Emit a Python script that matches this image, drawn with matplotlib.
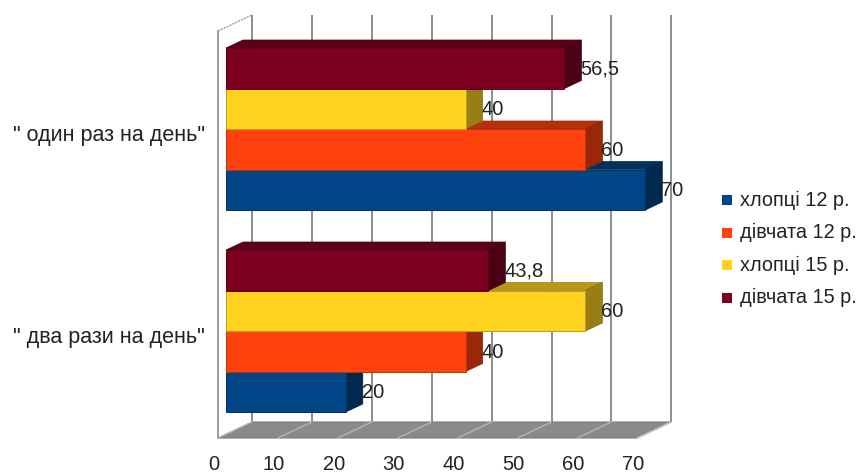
import matplotlib
matplotlib.use("Agg")
import matplotlib.pyplot as plt
from matplotlib.patches import Polygon, Rectangle
from matplotlib.colors import to_rgb

plt.rcParams['font.family'] = ['Liberation Sans', 'DejaVu Sans']

# ---- data -------------------------------------------------------------
categories = ['" один раз на день"', '" два рази на день"']
series_names = ["хлопці 12 р.", "дівчата 12 р.", "хлопці 15 р.", "дівчата 15 р."]
boys_12 = [70, 20]
girls_12 = [60, 40]
boys_15 = [40, 60]
girls_15 = [56.5, 43.8]
series_values = [boys_12, girls_12, boys_15, girls_15]
series_colors = ["#004586", "#ff420e", "#ffd320", "#7e0021"]
x_ticks = [0, 10, 20, 30, 40, 50, 60, 70]

# ---- layout (pixels) --------------------------------------------------
W, H = 860, 475
S = 5.99            # pixels per unit on the x scale
X0 = 218            # pixel column of value 0 on the floor front edge
DEPTH, RISE = 34, 16  # depth of the 3D box (horizontal / vertical shift)
BAR_FRONT, BAR_BACK = 8, 25
BAR_H = 40.5
GROUP_CENTERS = [129, 331]
FLOOR_FRONT_Y = 438
WALL_TOP_Y = 15


def dx(d):
    return d / S


def dy(d):
    return -d * RISE / DEPTH


def xp(px):
    return (px - X0) / S


def shade(c, f):
    r, g, b = to_rgb(c)
    return (r * f, g * f, b * f)


fig = plt.figure(figsize=(W / 100, H / 100), dpi=100)
ax = fig.add_axes([0, 0, 1, 1])
ax.set_xlim(-X0 / S, (W - X0) / S)
ax.set_ylim(H, 0)
ax.axis("off")

grid_c = "#8c8c8c"
floor_back_y = FLOOR_FRONT_Y + dy(DEPTH)
xmax = x_ticks[-1]

# back wall grid lines
for t in x_ticks:
    ax.plot([t + dx(DEPTH)] * 2, [WALL_TOP_Y, floor_back_y],
            color=grid_c, lw=1.4, zorder=1, solid_capstyle="butt")

# left wall edges
wall_top_front = WALL_TOP_Y - dy(DEPTH)
ax.plot([0, 0], [wall_top_front, FLOOR_FRONT_Y], color=grid_c, lw=1.2, zorder=1)
ax.plot([0, dx(DEPTH)], [wall_top_front, WALL_TOP_Y], color="#9a9a9a",
        lw=1.0, ls=(0, (1.5, 0.8)), zorder=1)

# floor
floor = Polygon([(0, FLOOR_FRONT_Y), (xmax, FLOOR_FRONT_Y),
                 (xmax + dx(DEPTH), floor_back_y), (dx(DEPTH), floor_back_y)],
                closed=True, facecolor="#8a8a8a", edgecolor="#7a7a7a",
                lw=0.8, zorder=1.5)
ax.add_patch(floor)
for t in x_ticks:
    ax.plot([t, t + dx(DEPTH)], [FLOOR_FRONT_Y, floor_back_y],
            color="#b8b8b8", lw=0.9, zorder=1.6)
ax.plot([xmax, xmax + dx(DEPTH)], [FLOOR_FRONT_Y, floor_back_y],
        color="#d0d0d0", lw=1.0, ls=(0, (1.5, 0.8)), zorder=1.7)

# x tick labels
for t in x_ticks:
    ax.text(t - dx(4), 465, f"{t}", ha="center", va="center",
            fontsize=14.5, color="#222222")

# bars (drawn bottom to top so upper fronts hide lower tops)
bd = BAR_BACK - BAR_FRONT
left = dx(BAR_FRONT)
for g, gc in enumerate(GROUP_CENTERS):
    for i, (vals, col) in enumerate(zip(series_values, series_colors)):
        v = vals[g]
        yc = gc + (1.5 - i) * BAR_H
        top, bot = yc - BAR_H / 2, yc + BAR_H / 2
        z = 3 + i
        top_face = Polygon([(left, top), (left + v, top),
                            (left + v + dx(bd), top + dy(bd)),
                            (left + dx(bd), top + dy(bd))],
                           closed=True, facecolor=shade(col, 0.72),
                           edgecolor=shade(col, 0.6), lw=0.5, zorder=z)
        side_face = Polygon([(left + v, top), (left + v + dx(bd), top + dy(bd)),
                             (left + v + dx(bd), bot + dy(bd)), (left + v, bot)],
                            closed=True, facecolor=shade(col, 0.6),
                            edgecolor=shade(col, 0.5), lw=0.5, zorder=z)
        ax.add_patch(top_face)
        ax.add_patch(side_face)
        ax.barh(yc, v, height=BAR_H, left=left, color=col,
                edgecolor=shade(col, 0.75), lw=0.7, zorder=z + 0.01)
        label = f"{v:g}".replace(".", ",")
        ax.text(left + v + dx(bd) - dx(1), yc + 1, label, ha="left",
                va="center", fontsize=14.5, color="#222222", zorder=10)

# category labels
for gc, name in zip(GROUP_CENTERS, categories):
    ax.text(xp(205), gc + 7, name, ha="right", va="center",
            fontsize=15.5, color="#222222")

# legend
leg_rows = [200, 232.5, 265, 297.5]
for y, name, col in zip(leg_rows, series_names, series_colors):
    ax.add_patch(Rectangle((xp(722), y - 5), dx(10), 10, facecolor=col,
                           edgecolor="none", zorder=10))
    ax.text(xp(740), y, name, ha="left", va="center", fontsize=14.3,
            color="#222222")

fig.savefig("out.png", dpi=100)
